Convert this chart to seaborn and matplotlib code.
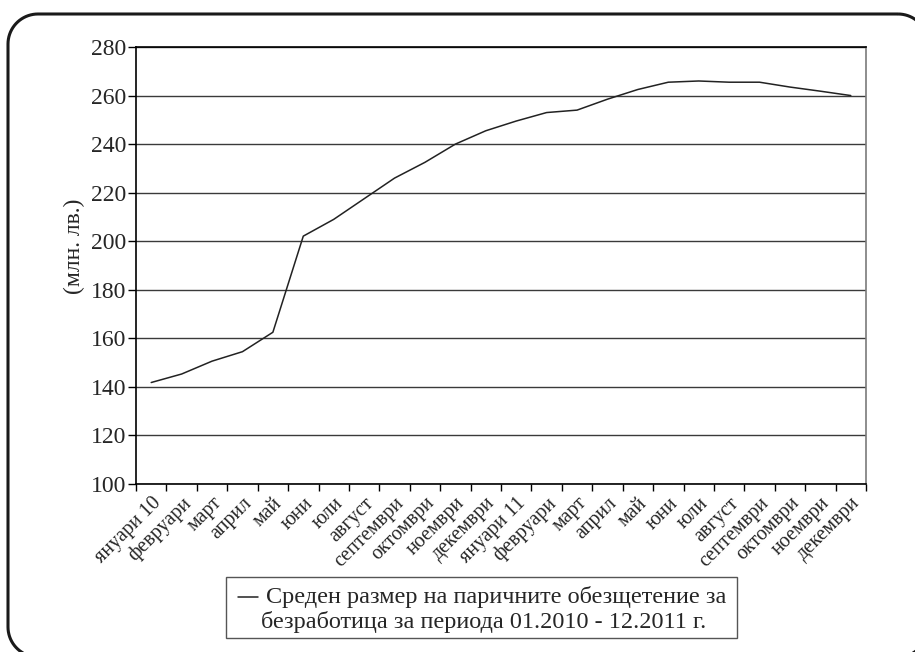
import numpy as np
import pandas as pd
import matplotlib
matplotlib.use("Agg")
import matplotlib.pyplot as plt
import seaborn as sns
from matplotlib.patches import Rectangle, PathPatch
from matplotlib.lines import Line2D
from matplotlib.path import Path

months = ["януари 10", "февруари", "март", "април", "май", "юни", "юли", "август",
          "септември", "октомври", "ноември", "декември",
          "януари 11", "февруари", "март", "април", "май", "юни", "юли", "август",
          "септември", "октомври", "ноември", "декември"]
benefit = [141.8, 145.3, 150.6, 154.5, 162.5, 202.1, 209.0, 217.5,
           226.0, 232.5, 240.0, 245.5,
           249.5, 253.0, 254.0, 258.5, 262.5, 265.5, 266.0, 265.5,
           265.5, 263.5, 261.8, 260.0]
y_ticks = [100, 120, 140, 160, 180, 200, 220, 240, 260, 280]
legend_lines = ["Среден размер на паричните обезщетение за",
                "безработица за периода 01.2010 - 12.2011 г."]
y_label = "(млн. лв.)"

sns.set_style("white")
plt.rcParams["font.family"] = ["Liberation Serif", "DejaVu Serif"]

df = pd.DataFrame({"idx": np.arange(len(months)), "value": benefit})

W, H = 915, 652
fig = plt.figure(figsize=(W / 100, H / 100), dpi=100)


def fx(px):
    return px / W


def fy(py):
    return 1 - py / H


ax = fig.add_axes([fx(136), fy(484), (866 - 136) / W, (484 - 47) / H])

# horizontal gridlines
for v in y_ticks:
    ax.axhline(v, color="#3a3a3a", lw=1.0, zorder=1)

sns.lineplot(data=df, x="idx", y="value", ax=ax, color="#222222", lw=1.1, zorder=3)

ax.set_xlim(-0.5, len(months) - 0.5)
ax.set_ylim(100, 280)
ax.set_yticks(y_ticks)
ax.set_yticklabels([str(v) for v in y_ticks], fontsize=17)
ax.tick_params(axis="y", direction="out", length=6, width=1, color="black", pad=1, left=True)

ax.set_xticks(np.arange(len(months)))
ax.set_xticklabels(months, rotation=45, ha="right", rotation_mode="anchor", fontsize=14.5)
ax.set_xticks(np.arange(len(months) + 1) - 0.5, minor=True)
ax.tick_params(axis="x", which="major", length=0, pad=7)
ax.tick_params(axis="x", which="minor", direction="out", length=5, width=1, color="black", bottom=True)

ax.set_xlabel("")
ax.set_ylabel(y_label, fontsize=17)
ax.yaxis.set_label_coords((85 - 136) / 730, (484 - 246.5) / 437)

for side in ["left", "bottom", "top"]:
    ax.spines[side].set_color("black")
    ax.spines[side].set_linewidth(1.2)
ax.spines["right"].set_color("#7a7a7a")
ax.spines["right"].set_linewidth(1.2)

# legend box below the chart
lx0, lx1, ly0, ly1 = 226, 737, 577, 638
fig.patches.append(Rectangle((fx(lx0), fy(ly1)), (lx1 - lx0) / W, (ly1 - ly0) / H,
                             transform=fig.transFigure, fill=False,
                             edgecolor="#555555", lw=1.0))
fig.lines.append(Line2D([fx(238), fx(258)], [fy(597), fy(597)],
                        transform=fig.transFigure, color="#222222", lw=1.1))
fig.text(fx(266), fy(597), legend_lines[0], fontsize=17.5, va="center", ha="left")
fig.text(fx(484), fy(622), legend_lines[1], fontsize=17.5, va="center", ha="center")

# rounded outer frame (partly running off the right and bottom edges)
bx0, by0, bx1, by1, r = 8, 14, 928, 657, 30
pts = []
corners = [(bx1 - r, by0 + r, -90, 0), (bx1 - r, by1 - r, 0, 90),
           (bx0 + r, by1 - r, 90, 180), (bx0 + r, by0 + r, 180, 270)]
for cx, cy, a0, a1 in corners:
    for a in np.linspace(np.radians(a0), np.radians(a1), 20):
        pts.append((fx(cx + r * np.cos(a)), fy(cy + r * np.sin(a))))
pts.append(pts[0])
frame = PathPatch(Path(pts), transform=fig.transFigure, fill=False,
                  edgecolor="#1a1a1a", lw=2.2, clip_on=False)
fig.patches.append(frame)

fig.savefig("out.png", dpi=100)
